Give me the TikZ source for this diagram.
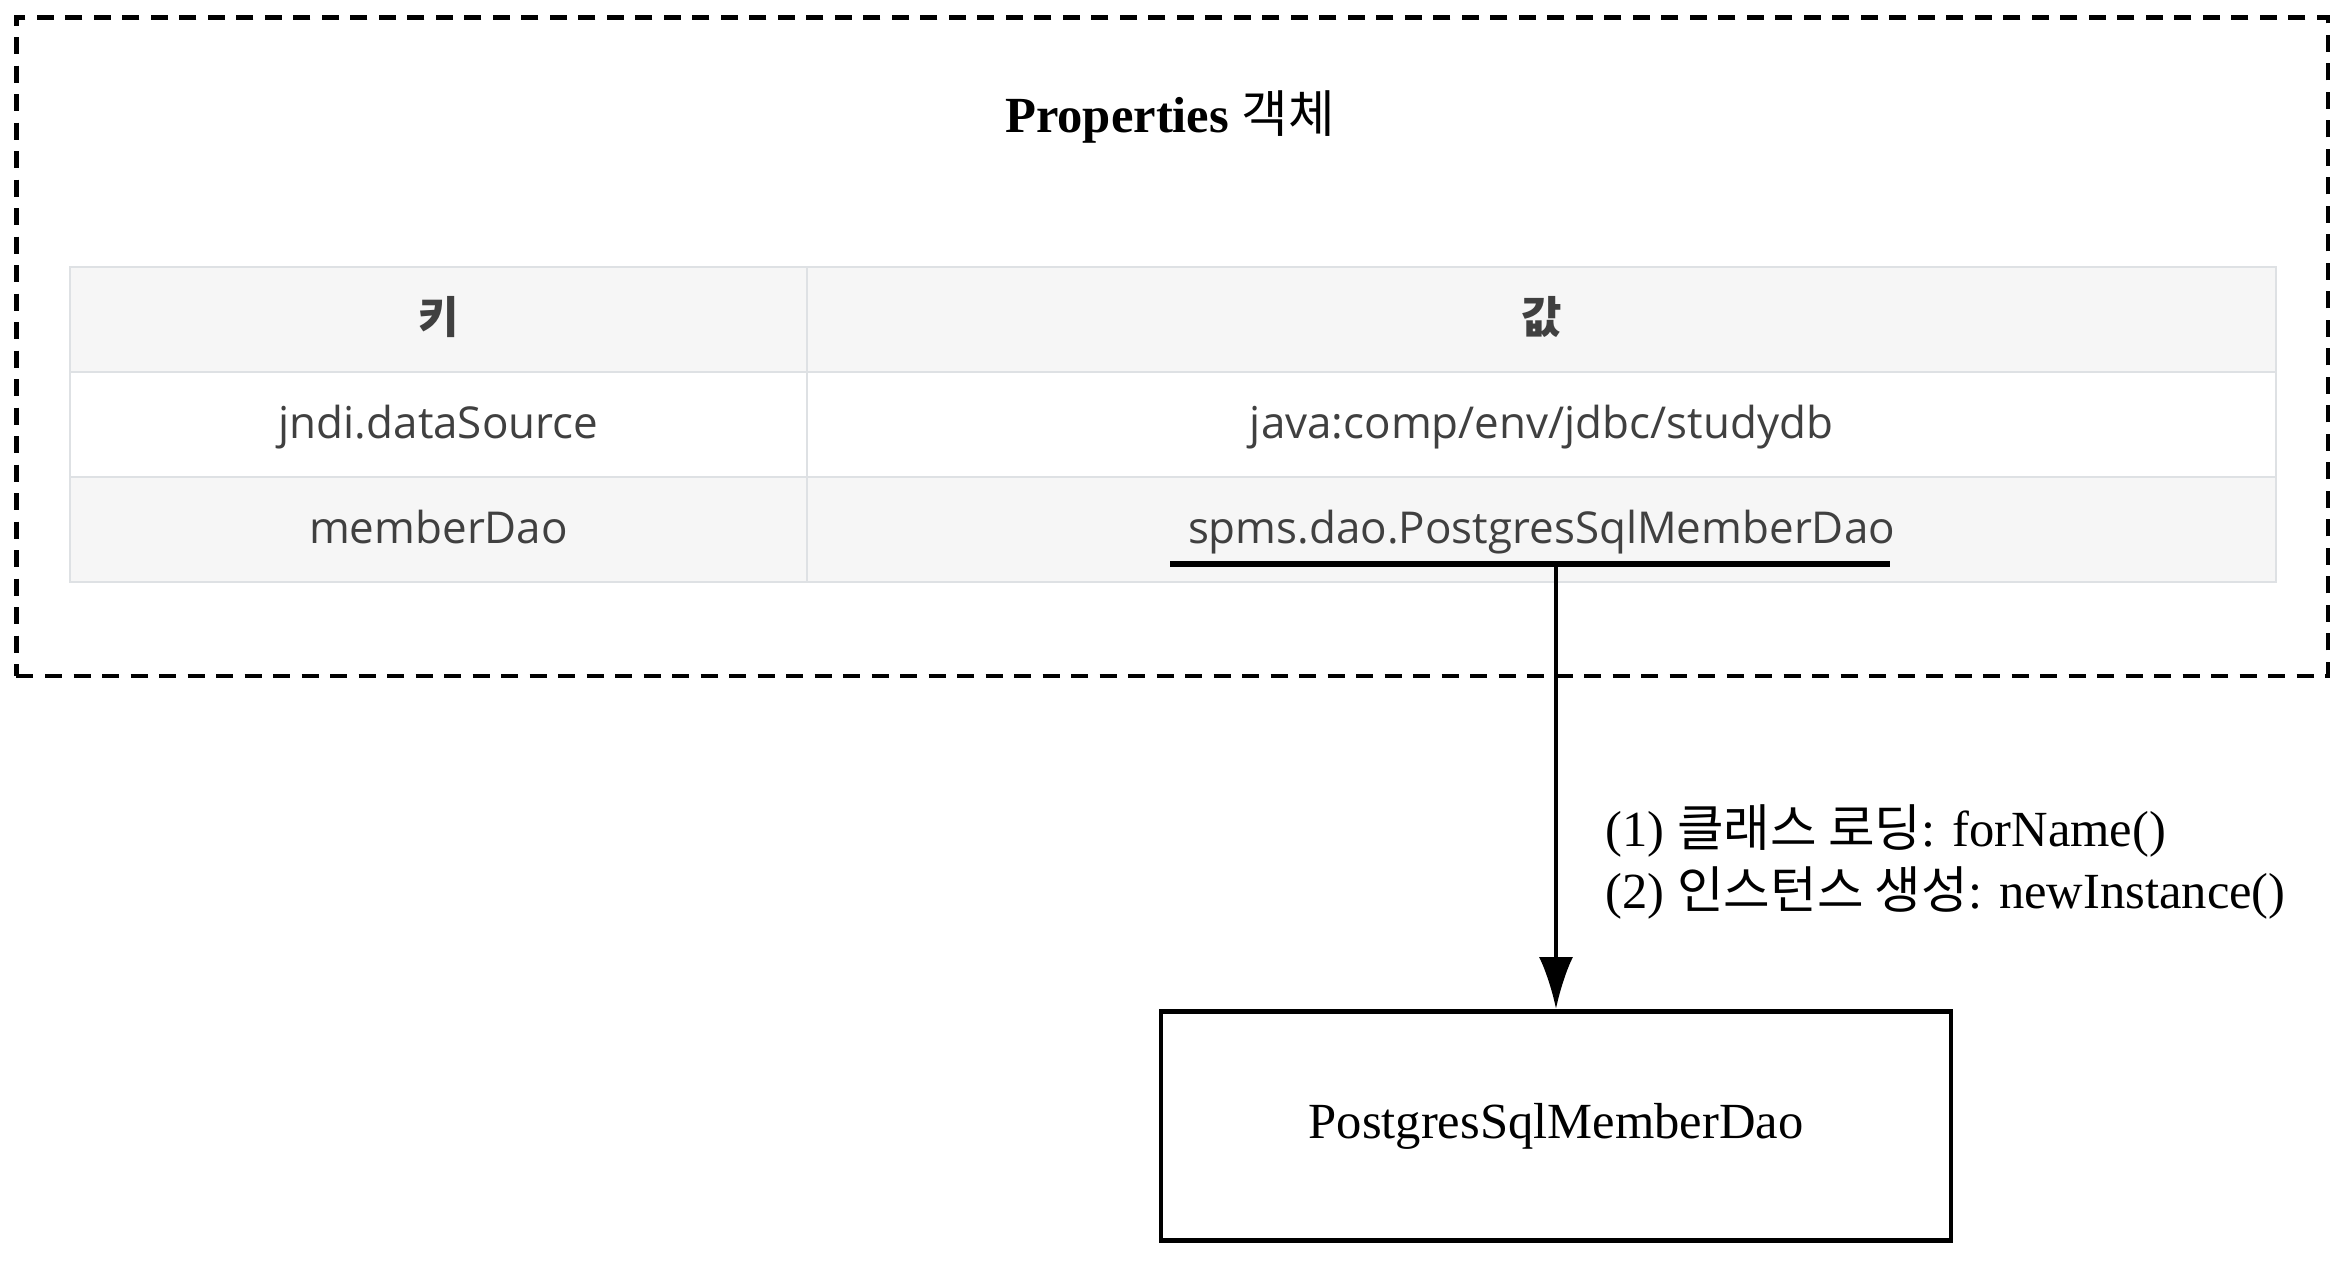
\documentclass[tikz,border=0pt]{standalone}
\usepackage{fontspec}
\setmainfont{Liberation Serif}
\newfontfamily\krfont{Noto Sans CJK KR}
\newfontfamily\tblfont{Open Sans}
\usetikzlibrary{arrows.meta, positioning, calc}
\definecolor{tblline}{RGB}{222, 225, 228}
\definecolor{tblfill}{RGB}{246, 246, 246}
\definecolor{tbltext}{RGB}{64, 64, 64}

\begin{document}
\begin{tikzpicture}[
    font=\fontsize{14.4}{17.5}\selectfont,
    keycell/.style={rectangle, draw=tblline, line width=0.6pt, outer sep=0pt, minimum width=7.37cm, minimum height=1.05cm, inner sep=0pt, text height=10.6pt, text depth=2.6pt, text=tbltext, font=\tblfont\fontsize{12.5}{15}\selectfont},
    valcell/.style={keycell, minimum width=14.69cm},
    propbox/.style={rectangle, draw=black, line width=1.4pt, dash pattern=on 0.17cm off 0.115cm, minimum width=23.115cm, minimum height=6.585cm},
    daobox/.style={rectangle, draw=black, line width=1.4pt, minimum width=7.90cm, minimum height=2.29cm, text centered},
    arrow/.style={line width=1.15pt, -{Latex[length=5.2mm, width=3.4mm]}},
    uline/.style={line width=1.6pt}
]
\useasboundingbox (0,0) rectangle (23.52,12.64);

% Properties object
\node[propbox] (props) at (11.7225,9.1725) {};
\node[anchor=base] (title) at (11.70,11.31) {\textbf{Properties {\krfont\mdseries 객체}}};

% Table
\node[keycell, fill=tblfill, anchor=north west] (hkey) at (0.70,9.97) {\krfont\bfseries 키};
\node[valcell, fill=tblfill, right=0cm of hkey] (hval) {\krfont\bfseries 값};
\node[keycell, fill=white, below=0cm of hkey] (key1) {jndi.dataSource};
\node[valcell, fill=white, right=0cm of key1] (val1) {java:comp/env/jdbc/studydb};
\node[keycell, fill=tblfill, below=0cm of key1] (key2) {memberDao};
\node[valcell, fill=tblfill, right=0cm of key2] (val2) {spms.dao.PostgresSqlMemberDao};

% Underline of the class name
\coordinate (ulstart) at (11.70,7.00);
\coordinate (ulend) at (18.90,7.00);
\draw[uline] (ulstart) -- (ulend);

% Created object
\node[daobox] (dao) at (15.56,1.38) {PostgresSqlMemberDao};

% Arrow
\draw[arrow] (dao.north |- ulstart) -- (dao.north);
\node[anchor=west, align=left, inner sep=0pt] (steps) at (16.05,4.02)
    {(1) {\krfont 클래스 로딩}: forName()\\(2) {\krfont 인스턴스 생성}: newInstance()};

\end{tikzpicture}
\end{document}
